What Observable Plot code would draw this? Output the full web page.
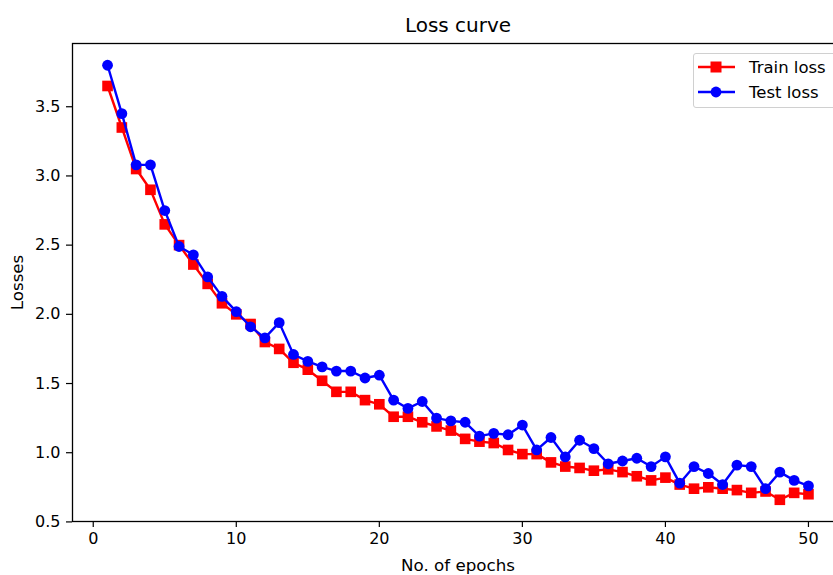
<!DOCTYPE html>
<html>
<head>
<meta charset="utf-8">
<script src="https://cdn.jsdelivr.net/npm/d3@7"></script>
<script src="https://cdn.jsdelivr.net/npm/@observablehq/plot@0.6"></script>
<style>
  html, body { margin: 0; padding: 0; background: #fff; overflow: hidden; }
  #wrap { position: relative; width: 833px; height: 575px; font-family: "DejaVu Sans", sans-serif; }
  #legend { position: absolute; left: 693px; top: 53px; width: 150px; height: 55px; border: 1px solid #d0d0d0; border-radius: 3px; background: rgba(255,255,255,0.8); font-size: 16.5px; color: #000; box-sizing: border-box; }
  .row { position: absolute; left: 4px; height: 20px; display: flex; align-items: center; }
  .row span { margin-left: 14px; }
</style>
</head>
<body>
<div id="wrap"></div>
<script>
const epochs = d3.range(1, 51);
const trainLoss = [3.65,3.35,3.05,2.90,2.65,2.50,2.36,2.22,2.08,2.00,
  1.93,1.80,1.75,1.65,1.60,1.52,1.44,1.44,1.38,1.35,
  1.26,1.26,1.22,1.19,1.16,1.10,1.08,1.07,1.02,0.99,
  0.99,0.93,0.90,0.89,0.87,0.88,0.86,0.83,0.80,0.82,
  0.77,0.74,0.75,0.74,0.73,0.71,0.72,0.66,0.71,0.70];
const testLoss = [3.80,3.45,3.08,3.08,2.75,2.49,2.43,2.27,2.13,2.02,
  1.91,1.83,1.94,1.71,1.66,1.62,1.59,1.59,1.54,1.56,
  1.38,1.32,1.37,1.25,1.23,1.22,1.12,1.14,1.13,1.20,
  1.02,1.11,0.97,1.09,1.03,0.92,0.94,0.96,0.90,0.97,
  0.78,0.90,0.85,0.77,0.91,0.90,0.74,0.86,0.80,0.76];
const xTicks = [0, 10, 20, 30, 40, 50];
const yTicks = [0.5, 1.0, 1.5, 2.0, 2.5, 3.0, 3.5];
const seriesNames = ["Train loss", "Test loss"];
const seriesColors = ["#ff0000", "#0000ff"];
const title = "Loss curve";
const xLabel = "No. of epochs";
const yLabel = "Losses";

const train = epochs.map((e, i) => ({epoch: e, loss: trainLoss[i]}));
const test = epochs.map((e, i) => ({epoch: e, loss: testLoss[i]}));

const chart = Plot.plot({
  width: 833,
  height: 575,
  marginLeft: 72,
  marginTop: 43,
  marginBottom: 54,
  marginRight: -10,
  style: {fontFamily: "DejaVu Sans, sans-serif", fontSize: "16px", color: "#000", background: "transparent", overflow: "visible"},
  x: {domain: [-1.45, 52.45]},
  y: {domain: [0.503, 3.957]},
  marks: [
    Plot.axisX({ticks: xTicks, tickSize: 6, tickPadding: 5, tickFormat: d3.format("d"), label: null, fontSize: 16, strokeWidth: 1.2}),
    Plot.axisY({ticks: yTicks, tickSize: 6, tickPadding: 6, tickFormat: d3.format(".1f"), label: null, fontSize: 16, strokeWidth: 1.2}),
    Plot.frame({stroke: "#000", strokeWidth: 1.3}),
    Plot.line(train, {x: "epoch", y: "loss", stroke: seriesColors[0], strokeWidth: 2.4}),
    Plot.dot(train, {x: "epoch", y: "loss", symbol: "square", r: 6.0, fill: seriesColors[0], stroke: seriesColors[0], strokeWidth: 0}),
    Plot.line(test, {x: "epoch", y: "loss", stroke: seriesColors[1], strokeWidth: 2.4}),
    Plot.dot(test, {x: "epoch", y: "loss", symbol: "circle", r: 5.4, fill: seriesColors[1], stroke: seriesColors[1], strokeWidth: 0}),
    Plot.text([title], {frameAnchor: "top", dy: -18, lineAnchor: "middle", fontSize: 20, fill: "#000"}),
    Plot.text([xLabel], {frameAnchor: "bottom", dy: 44, lineAnchor: "middle", fontSize: 16.7, fill: "#000"}),
    Plot.text([yLabel], {frameAnchor: "left", dx: -54.5, rotate: -90, lineAnchor: "middle", textAnchor: "middle", fontSize: 16.7, fill: "#000"})
  ]
});

const wrap = document.getElementById("wrap");
wrap.appendChild(chart);

const legend = document.createElement("div");
legend.id = "legend";
seriesNames.forEach((name, i) => {
  const row = document.createElement("div");
  row.className = "row";
  row.style.top = (3 + i * 25) + "px";
  const sym = i === 0
    ? `<rect x="12.5" y="4.5" width="11" height="11" fill="${seriesColors[i]}"/>`
    : `<circle cx="18" cy="10" r="5.4" fill="${seriesColors[i]}"/>`;
  row.innerHTML = `<svg width="37" height="20"><line x1="0" x2="37" y1="10" y2="10" stroke="${seriesColors[i]}" stroke-width="2.4"/>${sym}</svg><span>${name}</span>`;
  legend.appendChild(row);
});
wrap.appendChild(legend);
</script>
</body>
</html>
